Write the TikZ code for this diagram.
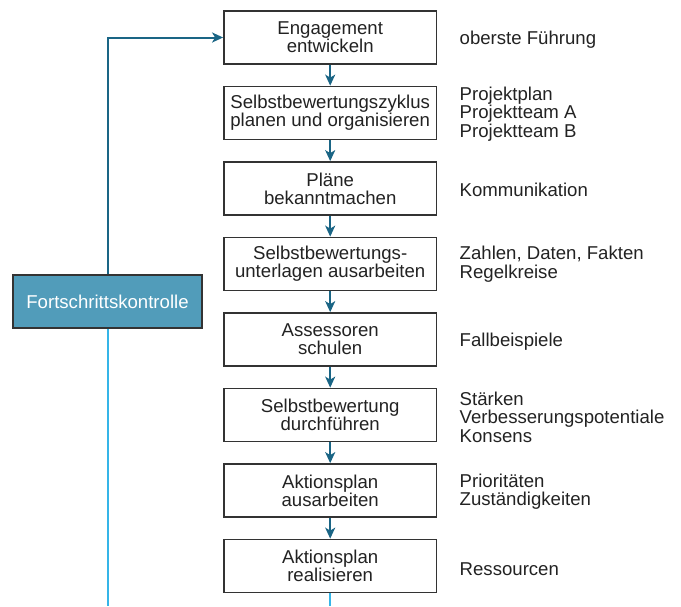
\documentclass[tikz,border=0pt]{standalone}
\usepackage{fontspec}
\setmainfont{Liberation Sans}
\usetikzlibrary{arrows.meta}
\definecolor{darkblue}{HTML}{1A6585}
\definecolor{lightblue}{HTML}{35B5E8}
\definecolor{fillblue}{HTML}{519CBA}
\definecolor{txt}{HTML}{222222}
\definecolor{frame}{HTML}{333333}
\tikzset{
  stepbox/.style={draw=frame, line width=1.7pt, fill=white, minimum width=212.5pt, minimum height=53pt,
    inner sep=0pt, align=center, text=txt, font=\fontsize{18.6}{17.8}\selectfont},
  ctrlbox/.style={draw=frame, line width=1.7pt, fill=fillblue, minimum width=189pt, minimum height=53pt,
    inner sep=0pt, align=center, text=white, font=\fontsize{18.6}{17.8}\selectfont},
  note/.style={anchor=west, inner sep=0pt, align=left, text=txt, font=\fontsize{18.6}{18.5}\selectfont},
  flow/.style={draw=darkblue, line width=2pt, -{Stealth[length=11pt,width=10pt,inset=3pt]}},
  pale/.style={draw=lightblue, line width=2pt},
}
\begin{document}
\begin{tikzpicture}[x=1pt,y=-1pt]
\useasboundingbox (0,0) rectangle (681,606);
\node[stepbox] (b1) at (330.2,37.5) {Engagement\\entwickeln};
\node[stepbox] (b2) at (330.2,113) {Selbstbewertungszyklus\\planen und organisieren};
\node[stepbox] (b3) at (330.2,188.5) {Pläne\\bekanntmachen};
\node[stepbox] (b4) at (330.2,264) {Selbstbewertungs-\\unterlagen ausarbeiten};
\node[stepbox] (b5) at (330.2,339.5) {Assessoren\\schulen};
\node[stepbox] (b6) at (330.2,415) {Selbstbewertung\\durchführen};
\node[stepbox] (b7) at (330.2,490.5) {Aktionsplan\\ausarbeiten};
\node[stepbox] (b8) at (330.2,566) {Aktionsplan\\realisieren};
\node[ctrlbox] (fk) at (107.5,301.5) {Fortschrittskontrolle};

\node[note] (n1) at (459.5,40) {oberste Führung};
\node[note] (n2) at (459.5,114) {Projektplan\\Projektteam A\\Projektteam B};
\node[note] (n3) at (459.5,189.5) {Kommunikation};
\node[note] (n4) at (459.5,264) {Zahlen, Daten, Fakten\\Regelkreise};
\node[note] (n5) at (459.5,341.5) {Fallbeispiele};
\node[note] (n6) at (459.5,417) {Stärken\\Verbesserungspotentiale\\Konsens};
\node[note] (n7) at (459.5,491.5) {Prioritäten\\Zuständigkeiten};
\node[note] (n8) at (459.5,569) {Ressourcen};

\coordinate (corner) at (107.5,37.5);
\coordinate (fkend) at (107.5,606);
\coordinate (b8end) at (330.2,606);

\draw[flow] (b1) -- (b2);
\draw[flow] (b2) -- (b3);
\draw[flow] (b3) -- (b4);
\draw[flow] (b4) -- (b5);
\draw[flow] (b5) -- (b6);
\draw[flow] (b6) -- (b7);
\draw[flow] (b7) -- (b8);
\draw[flow] (fk.north) -- (corner) -- (b1.west);
\draw[pale] (fk.south) -- (fkend);
\draw[pale] (b8.south) -- (b8end);
\end{tikzpicture}
\end{document}
